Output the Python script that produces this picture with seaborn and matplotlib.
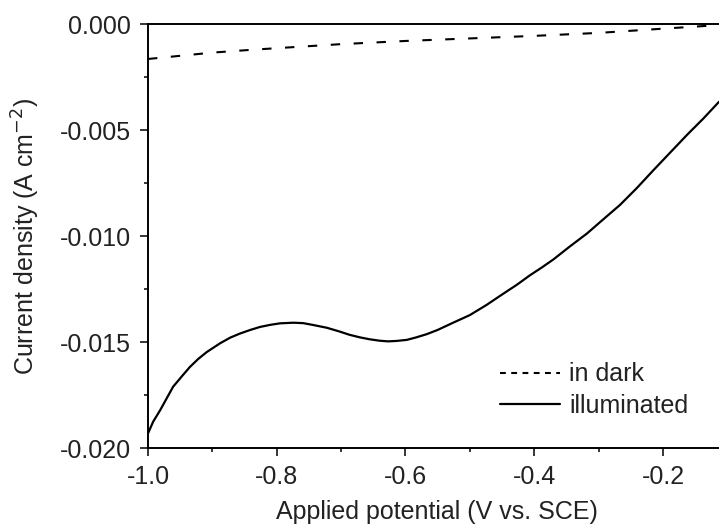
import numpy as np
import pandas as pd
import matplotlib
matplotlib.use("Agg")
import matplotlib.pyplot as plt
import seaborn as sns
from matplotlib.ticker import MultipleLocator, FormatStrFormatter

# ---- data ----
v_illum = [-1.0, -0.992, -0.981, -0.971, -0.961, -0.948, -0.935, -0.922, -0.909,
           -0.888, -0.872, -0.857, -0.841, -0.826, -0.810, -0.795, -0.774, -0.759,
           -0.743, -0.722, -0.702, -0.687, -0.671, -0.656, -0.640, -0.627, -0.614,
           -0.598, -0.583, -0.567, -0.550, -0.526, -0.500, -0.474, -0.448, -0.427,
           -0.407, -0.388, -0.370, -0.345, -0.318, -0.293, -0.267, -0.241, -0.215,
           -0.189, -0.163, -0.137, -0.113]
j_illum = [-0.01931, -0.01876, -0.01821, -0.01766, -0.01711, -0.01664, -0.01618,
           -0.01580, -0.01548, -0.01506, -0.01479, -0.01460, -0.01443, -0.01429,
           -0.01419, -0.01412, -0.01409, -0.01411, -0.01420, -0.01433, -0.01451,
           -0.01466, -0.01478, -0.01487, -0.01494, -0.01497, -0.01495, -0.01490,
           -0.01478, -0.01463, -0.01443, -0.01409, -0.01373, -0.01325, -0.01272,
           -0.01230, -0.01186, -0.01148, -0.01110, -0.01050, -0.00988, -0.00922,
           -0.00854, -0.00775, -0.00690, -0.00607, -0.00524, -0.00445, -0.00367]

v_dark = [-1.0, -0.95, -0.9, -0.85, -0.8, -0.7, -0.6, -0.5, -0.4, -0.3, -0.2, -0.113]
j_dark = [-0.00165, -0.00150, -0.00135, -0.00124, -0.00114, -0.00095, -0.00080,
          -0.00068, -0.00056, -0.00042, -0.00022, -0.00005]

x_ticks = [-1.0, -0.8, -0.6, -0.4, -0.2]
y_ticks = [0.000, -0.005, -0.010, -0.015, -0.020]

sns.set_theme(style="ticks")
plt.rcParams["font.family"] = ["Liberation Sans", "DejaVu Sans"]
plt.rcParams["axes.unicode_minus"] = False

df_dark = pd.DataFrame({"V": v_dark, "J": j_dark})
df_ill = pd.DataFrame({"V": v_illum, "J": j_illum})

fig = plt.figure(figsize=(7.19, 5.28), dpi=100)
ax = fig.add_axes([148/719, 1-448/528, 1-148/719, (448-24)/528])

sns.lineplot(data=df_dark, x="V", y="J", ax=ax, color="black", lw=1.5,
             label="in dark", sort=False, estimator=None)
ax.lines[-1].set_dashes([4.5, 6.5])
sns.lineplot(data=df_ill, x="V", y="J", ax=ax, color="black", lw=1.6,
             label="illuminated", sort=False, estimator=None)

ax.set_xlim(-1.0, -0.113)
ax.set_ylim(-0.020, 0.000)
ax.set_xticks(x_ticks)
ax.set_yticks(y_ticks)
ax.xaxis.set_minor_locator(MultipleLocator(0.1))
ax.yaxis.set_minor_locator(MultipleLocator(0.0025))
ax.xaxis.set_major_formatter(FormatStrFormatter("%.1f"))
ax.yaxis.set_major_formatter(FormatStrFormatter("%.3f"))

ax.tick_params(axis="both", which="major", direction="out", length=6, width=1.1,
               labelsize=18, pad=6, color="black", labelcolor="#222222")
ax.tick_params(axis="both", which="minor", direction="out", length=3, width=1.1,
               color="black")

for s in ["left", "bottom", "top"]:
    ax.spines[s].set_linewidth(1.4)
    ax.spines[s].set_color("black")
ax.spines["right"].set_visible(False)

ax.set_xlabel("Applied potential (V vs. SCE)", fontsize=18, color="#222222")
ax.set_ylabel("Current density (A cm$^{-2}$)", fontsize=18, color="#222222")
ax.xaxis.set_label_coords(0.506, (448-500)/424)
ax.yaxis.set_label_coords((42-148)/571, 0.5)

leg = ax.legend(loc="center left", bbox_to_anchor=(500/719, 1-390/528),
                bbox_transform=fig.transFigure, frameon=False, fontsize=18,
                handlelength=2.4, handletextpad=0.36, labelspacing=0.3,
                borderpad=0, borderaxespad=0)
leg.get_lines()[0].set_dashes([2.8, 2.6])
for t in leg.get_texts():
    t.set_color("#222222")

fig.savefig("out.png", dpi=100)
